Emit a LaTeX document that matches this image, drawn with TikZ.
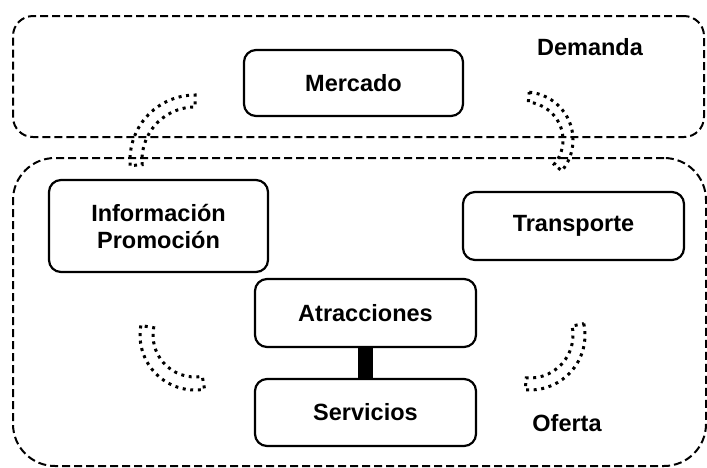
\documentclass[tikz,border=0pt]{standalone}
\usepackage{fontspec}
\setmainfont{Liberation Sans}
\usetikzlibrary{calc}
\begin{document}
\begin{tikzpicture}[x=1pt,y=-1pt,
  frame/.style={draw, line width=2pt, dash pattern=on 8pt off 4pt, rounded corners=#1, inner sep=0pt},
  boxnode/.style={draw, line width=2.2pt, rounded corners=12pt, inner sep=0pt, align=center,
    font=\fontsize{23.5}{27}\selectfont\bfseries},
  lbl/.style={inner sep=0pt, font=\fontsize{23.5}{27}\selectfont\bfseries},
  dotband/.style={draw, line width=3pt, dash pattern=on 3pt off 4.6pt}
]
\useasboundingbox (0,0) rectangle (707,467);
% frames
\node[frame=20pt, minimum width=691pt, minimum height=121pt] (demframe) at (358.5,76.5) {};
\node[frame=42pt, minimum width=693pt, minimum height=308pt] (ofeframe) at (359.5,312) {};
% labels
\node[lbl] (demanda) at (590,47) {Demanda};
\node[lbl] (oferta) at (567,423) {Oferta};
% boxes
\node[boxnode, minimum width=219pt, minimum height=66pt] (mercado) at (353.5,83) {Mercado};
\node[boxnode, minimum width=219pt, minimum height=92pt] (info) at (158.5,226) {Información\\Promoción};
\node[boxnode, minimum width=221pt, minimum height=68pt] (transp) at (573.5,226) {Transporte};
\node[boxnode, minimum width=221pt, minimum height=68pt] (atrac) at (365.5,313) {Atracciones};
\node[boxnode, minimum width=221pt, minimum height=67pt] (serv) at (365.5,412.5) {Servicios};
% connector
\draw[line width=15pt] (atrac.south) -- (serv.north);
% dotted curved bands
\coordinate (c1) at (195,160);
\draw[dotband] ($(c1)+(-185:65)$) arc[start angle=-185, end angle=-90, radius=65]
   -- ($(c1)+(-90:53)$) arc[start angle=-90, end angle=-185, radius=53] -- cycle;
\coordinate (c2) at (525,140);
\draw[dotband] ($(c2)+(-85:48)$) arc[start angle=-85, end angle=40, radius=48]
   -- ($(c2)+(40:38)$) arc[start angle=40, end angle=-85, radius=38] -- cycle;
\coordinate (c3) at (195,335);
\draw[dotband] ($(c3)+(-170:55)$) arc[start angle=-170, end angle=-280, radius=55]
   -- ($(c3)+(-280:42)$) arc[start angle=-280, end angle=-170, radius=42] -- cycle;
\coordinate (c4) at (530,335);
\draw[dotband] ($(c4)+(-12:55)$) arc[start angle=-12, end angle=95, radius=55]
   -- ($(c4)+(95:43)$) arc[start angle=95, end angle=-12, radius=43] -- cycle;
\end{tikzpicture}
\end{document}
